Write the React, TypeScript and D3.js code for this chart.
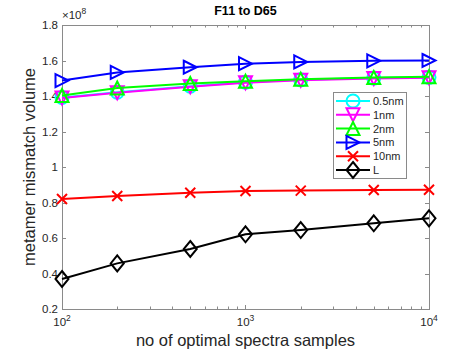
import * as d3 from "d3";
import React, { useEffect, useRef } from "react";

// sample counts on the log x axis
const samples = [100, 200, 500, 1000, 2000, 5000, 10000];

// volumes in units of 1e8
const res05 = [1.392, 1.421, 1.455, 1.478, 1.491, 1.501, 1.505];
const res1 = [1.389, 1.418, 1.452, 1.475, 1.489, 1.499, 1.503];
const res2 = [1.403, 1.445, 1.47, 1.483, 1.495, 1.504, 1.509];
const res5 = [1.487, 1.533, 1.562, 1.582, 1.592, 1.598, 1.6];
const res10 = [0.82, 0.837, 0.855, 0.865, 0.867, 0.87, 0.872];
const lumL = [0.369, 0.457, 0.538, 0.621, 0.645, 0.683, 0.711];

const seriesNames = ["0.5nm", "1nm", "2nm", "5nm", "10nm", "L"];
const seriesColors = ["#00ffff", "#ff00ff", "#00ff00", "#0000ff", "#ff0000", "#000000"];
const seriesMarkers = ["circle", "triDown", "triUp", "triRight", "cross", "diamond"];

const yTicks = [0.2, 0.4, 0.6, 0.8, 1, 1.2, 1.4, 1.6, 1.8];
const xTicks = [100, 1000, 10000];
const xExp = ["2", "3", "4"];

function markerPath(type: string): string {
  const r = 6.5;
  switch (type) {
    case "triDown":
      return `M${-r},${-r}L${r},${-r}L0,${r}Z`;
    case "triUp":
      return `M${-r},${r}L${r},${r}L0,${-r}Z`;
    case "triRight":
      return `M${-r},${-r}L${r},0L${-r},${r}Z`;
    case "cross":
      return `M-5,-5L5,5M-5,5L5,-5`;
    case "diamond":
      return `M0,-8L6.5,0L0,8L-6.5,0Z`;
    default:
      return "";
  }
}

export default function App() {
  const ref = useRef<SVGSVGElement | null>(null);

  useEffect(() => {
    const width = 474;
    const height = 354;
    const margin = { top: 25, right: 45, bottom: 45, left: 62 };
    const innerWidth = width - margin.left - margin.right;
    const innerHeight = height - margin.top - margin.bottom;
    const axisColor = "#8a8a8a";
    const textColor = "#262626";
    const font = "'Liberation Sans', Arial, sans-serif";

    const root = d3.select(ref.current);
    root.selectAll("*").remove();

    const svg = root.append("g").attr("transform", `translate(${margin.left},${margin.top})`);

    const x = d3.scaleLog().domain([100, 10000]).range([0, innerWidth]);
    const y = d3.scaleLinear().domain([0.2, 1.8]).range([innerHeight, 0]);

    // box
    svg.append("rect")
      .attr("x", 0.5).attr("y", 0.5)
      .attr("width", innerWidth).attr("height", innerHeight)
      .attr("fill", "white").attr("stroke", axisColor).attr("stroke-width", 1);

    // y ticks (left + right, inward)
    yTicks.forEach(t => {
      const yy = Math.round(y(t)) + 0.5;
      svg.append("line").attr("x1", 0).attr("x2", 4).attr("y1", yy).attr("y2", yy).attr("stroke", axisColor);
      svg.append("line").attr("x1", innerWidth - 4).attr("x2", innerWidth).attr("y1", yy).attr("y2", yy).attr("stroke", axisColor);
      svg.append("text")
        .attr("x", -4).attr("y", y(t) + 4)
        .attr("text-anchor", "end")
        .style("font-family", font).style("font-size", "11.5px")
        .attr("fill", textColor)
        .text(d3.format("~g")(t));
    });

    // x ticks, major and minor (bottom + top)
    const allX = d3.range(2, 5).flatMap(e => d3.range(1, 10).map(m => m * Math.pow(10, e))).filter(v => v <= 10000);
    allX.forEach(v => {
      const major = xTicks.includes(v);
      const len = major ? 4 : 2.5;
      const xx = Math.round(x(v)) + 0.5;
      svg.append("line").attr("x1", xx).attr("x2", xx).attr("y1", innerHeight).attr("y2", innerHeight - len).attr("stroke", axisColor);
      svg.append("line").attr("x1", xx).attr("x2", xx).attr("y1", 0).attr("y2", len).attr("stroke", axisColor);
    });

    xTicks.forEach((t, i) => {
      const txt = svg.append("text")
        .attr("x", x(t)).attr("y", innerHeight + 17)
        .attr("text-anchor", "middle")
        .style("font-family", font).style("font-size", "11.5px")
        .attr("fill", textColor);
      txt.append("tspan").text("10");
      txt.append("tspan").attr("dy", -5).style("font-size", "8.5px").text(xExp[i]);
    });

    // exponent marker
    const ex = svg.append("text")
      .attr("x", 0).attr("y", -6)
      .style("font-family", font).style("font-size", "11.5px")
      .attr("fill", textColor);
    ex.append("tspan").text("×10");
    ex.append("tspan").attr("dy", -5).style("font-size", "8.5px").text("8");

    // title
    svg.append("text")
      .attr("x", innerWidth / 2).attr("y", -10)
      .attr("text-anchor", "middle")
      .style("font-family", font).style("font-size", "12.5px").style("font-weight", "bold")
      .attr("fill", "#000")
      .text("F11 to D65");

    // axis labels
    svg.append("text")
      .attr("x", innerWidth / 2).attr("y", innerHeight + 37)
      .attr("text-anchor", "middle")
      .style("font-family", font).style("font-size", "16.5px")
      .attr("fill", textColor)
      .text("no of optimal spectra samples");

    svg.append("text")
      .attr("transform", "rotate(-90)")
      .attr("x", -innerHeight / 2).attr("y", -27)
      .attr("text-anchor", "middle")
      .style("font-family", font).style("font-size", "16.5px")
      .attr("fill", textColor)
      .text("metamer mismatch volume");

    const allSeries = [res05, res1, res2, res5, res10, lumL];
    const line = d3.line<number>()
      .x((_, i) => x(samples[i]))
      .y(d => y(d));

    const drawMarker = (g: d3.Selection<SVGGElement, unknown, null, undefined>, type: string, color: string, cx: number, cy: number) => {
      if (type === "circle") {
        g.append("circle").attr("cx", cx).attr("cy", cy).attr("r", 6.5)
          .attr("fill", "none").attr("stroke", color).attr("stroke-width", 2);
      } else {
        g.append("path").attr("transform", `translate(${cx},${cy})`)
          .attr("d", markerPath(type))
          .attr("fill", "none").attr("stroke", color).attr("stroke-width", 2)
          .attr("stroke-linejoin", "miter");
      }
    };

    allSeries.forEach((vals, k) => {
      const g = svg.append("g");
      g.append("path")
        .datum(vals)
        .attr("fill", "none")
        .attr("stroke", seriesColors[k])
        .attr("stroke-width", 2)
        .attr("d", line);
      vals.forEach((v, i) => drawMarker(g, seriesMarkers[k], seriesColors[k], x(samples[i]), y(v)));
    });

    // legend
    const lg = svg.append("g").attr("transform", `translate(${333 - margin.left},${92 - margin.top})`);
    lg.append("rect")
      .attr("x", 0.5).attr("y", 0.5).attr("width", 73).attr("height", 86)
      .attr("fill", "white").attr("stroke", axisColor).attr("stroke-width", 1);
    seriesNames.forEach((name, k) => {
      const ly = 9 + k * 13.8;
      const row = lg.append("g");
      row.append("line").attr("x1", 3).attr("x2", 37).attr("y1", ly).attr("y2", ly)
        .attr("stroke", seriesColors[k]).attr("stroke-width", 2);
      drawMarker(row, seriesMarkers[k], seriesColors[k], 20, ly);
      row.append("text")
        .attr("x", 40).attr("y", ly + 4)
        .style("font-family", font).style("font-size", "11px")
        .attr("fill", textColor)
        .text(name);
    });
  }, []);

  return (
    <svg
      ref={ref}
      width={474}
      height={354}
      style={{ position: "absolute", left: 0, top: 0, display: "block", background: "white" }}
    />
  );
}
